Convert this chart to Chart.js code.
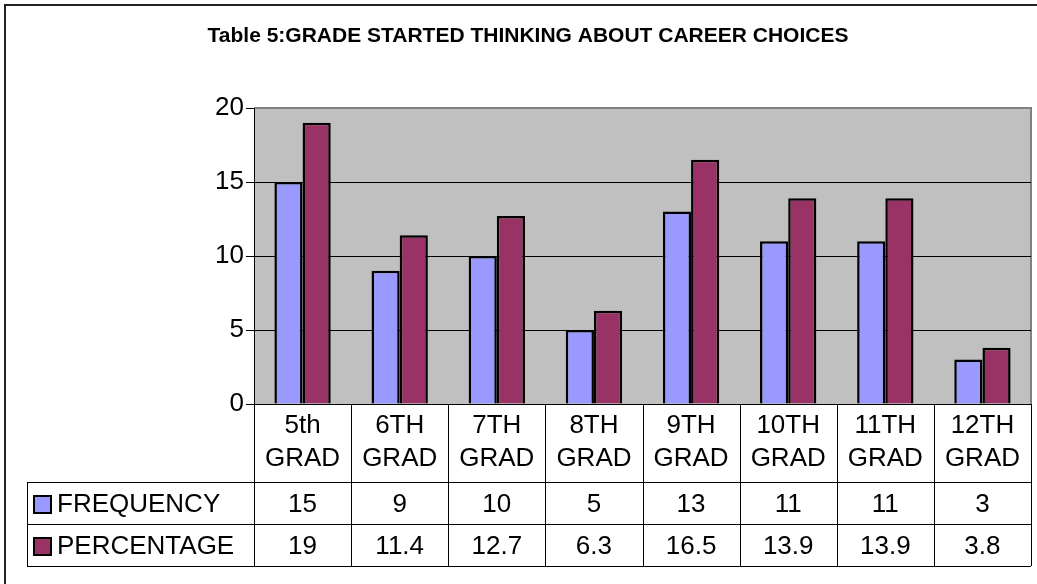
<!DOCTYPE html>
<html>
<head>
<meta charset="utf-8">
<script src="https://cdn.jsdelivr.net/npm/chart.js@4/dist/chart.umd.min.js"></script>
<style>
  html, body { margin: 0; padding: 0; background: #fff; }
  #wrap { width: 1037px; height: 584px; position: relative; }
</style>
</head>
<body>
<div id="wrap"><canvas id="chart" width="1037" height="584"></canvas></div>
<script>
// data
const chartTitle = "Table 5:GRADE STARTED THINKING ABOUT CAREER CHOICES";
const grades = [["5th", "GRAD"], ["6TH", "GRAD"], ["7TH", "GRAD"], ["8TH", "GRAD"],
                ["9TH", "GRAD"], ["10TH", "GRAD"], ["11TH", "GRAD"], ["12TH", "GRAD"]];
const frequency = [15, 9, 10, 5, 13, 11, 11, 3];
const percentage = [19, 11.4, 12.7, 6.3, 16.5, 13.9, 13.9, 3.8];
const yTicks = [0, 5, 10, 15, 20];

const FONT = "'Liberation Sans', Arial, sans-serif";
const TEXT_SIZE = 26;

// plot background + outer frame + title
const frame = {
  id: "frame",
  beforeDraw(chart) {
    const { ctx, chartArea: a } = chart;
    ctx.save();
    ctx.fillStyle = "#c0c0c0";
    ctx.fillRect(a.left, a.top, a.right - a.left, a.bottom - a.top);
    ctx.strokeStyle = "#808080";
    ctx.lineWidth = 2;
    ctx.beginPath();
    ctx.moveTo(a.left, a.top);
    ctx.lineTo(a.right, a.top);
    ctx.lineTo(a.right, a.bottom);
    ctx.stroke();
    // outer border (top + left only visible)
    ctx.strokeStyle = "#222";
    ctx.lineWidth = 2;
    ctx.beginPath();
    ctx.moveTo(5, 600);
    ctx.lineTo(5, 5);
    ctx.lineTo(1040, 5);
    ctx.stroke();
    ctx.fillStyle = "#000";
    ctx.font = "bold 21px " + FONT;
    ctx.textAlign = "center";
    ctx.textBaseline = "middle";
    ctx.fillText(chartTitle, 528, 36);
    ctx.restore();
  }
};

// data table under the axis
const dataTable = {
  id: "dataTable",
  afterDraw(chart) {
    const { ctx, chartArea: a } = chart;
    const n = grades.length;
    const w = (a.right - a.left) / n;
    const y0 = a.bottom, y1 = 482, y2 = 524, y3 = 566;
    const legX = 27;
    ctx.save();
    ctx.strokeStyle = "#000";
    ctx.lineWidth = 1;
    ctx.beginPath();
    for (let i = 0; i <= n; i++) {
      const x = Math.round(a.left + i * w) + 0.5;
      ctx.moveTo(x, y0);
      ctx.lineTo(x, y3);
    }
    [y1, y2, y3].forEach(y => {
      ctx.moveTo(legX, y + 0.5);
      ctx.lineTo(a.right, y + 0.5);
    });
    ctx.moveTo(legX + 0.5, y1);
    ctx.lineTo(legX + 0.5, y3);
    ctx.stroke();

    ctx.fillStyle = "#000";
    ctx.font = TEXT_SIZE + "px " + FONT;
    ctx.textAlign = "center";
    ctx.textBaseline = "middle";
    grades.forEach((g, i) => {
      const cx = a.left + (i + 0.5) * w;
      ctx.fillText(g[0], cx, 426);
      ctx.fillText(g[1], cx, 459);
      ctx.fillText(String(frequency[i]), cx, 505);
      ctx.fillText(String(percentage[i]), cx, 547);
    });

    const rows = [
      { label: "FREQUENCY", color: "#9999ff", y: 505 },
      { label: "PERCENTAGE", color: "#993366", y: 547 }
    ];
    rows.forEach(r => {
      ctx.fillStyle = r.color;
      ctx.fillRect(34, r.y - 9, 17, 17);
      ctx.strokeStyle = "#000";
      ctx.lineWidth = 2;
      ctx.strokeRect(34, r.y - 9, 17, 17);
      ctx.fillStyle = "#000";
      ctx.textAlign = "left";
      ctx.fillText(r.label, 57, r.y);
    });
    ctx.restore();
  }
};

new Chart(document.getElementById("chart"), {
  type: "bar",
  data: {
    labels: grades.map(g => g.join(" ")),
    datasets: [
      { label: "FREQUENCY", data: frequency, backgroundColor: "#9999ff",
        borderColor: "#000", borderWidth: 2.5 },
      { label: "PERCENTAGE", data: percentage, backgroundColor: "#993366",
        borderColor: "#000", borderWidth: 2.5 }
    ]
  },
  options: {
    responsive: false,
    animation: false,
    devicePixelRatio: 1,
    layout: { padding: { left: 0, right: 6, top: 108, bottom: 180 } },
    datasets: { bar: { categoryPercentage: 0.58, barPercentage: 1 } },
    plugins: { legend: { display: false }, tooltip: { enabled: false } },
    scales: {
      x: { display: false },
      y: {
        min: 0, max: 20,
        afterFit(scale) { scale.width = 254; },
        afterBuildTicks(scale) { scale.ticks = yTicks.map(v => ({ value: v })); },
        ticks: { color: "#000", padding: 2, font: { family: FONT, size: TEXT_SIZE } },
        grid: {
          color: ctx => (ctx.tick && (ctx.tick.value === 20) ? "rgba(0,0,0,0)" : "#000"),
          tickColor: "#000",
          tickLength: 8,
          lineWidth: 1
        },
        border: { color: "#000", width: 1 }
      }
    }
  },
  plugins: [frame, dataTable]
});
</script>
</body>
</html>
